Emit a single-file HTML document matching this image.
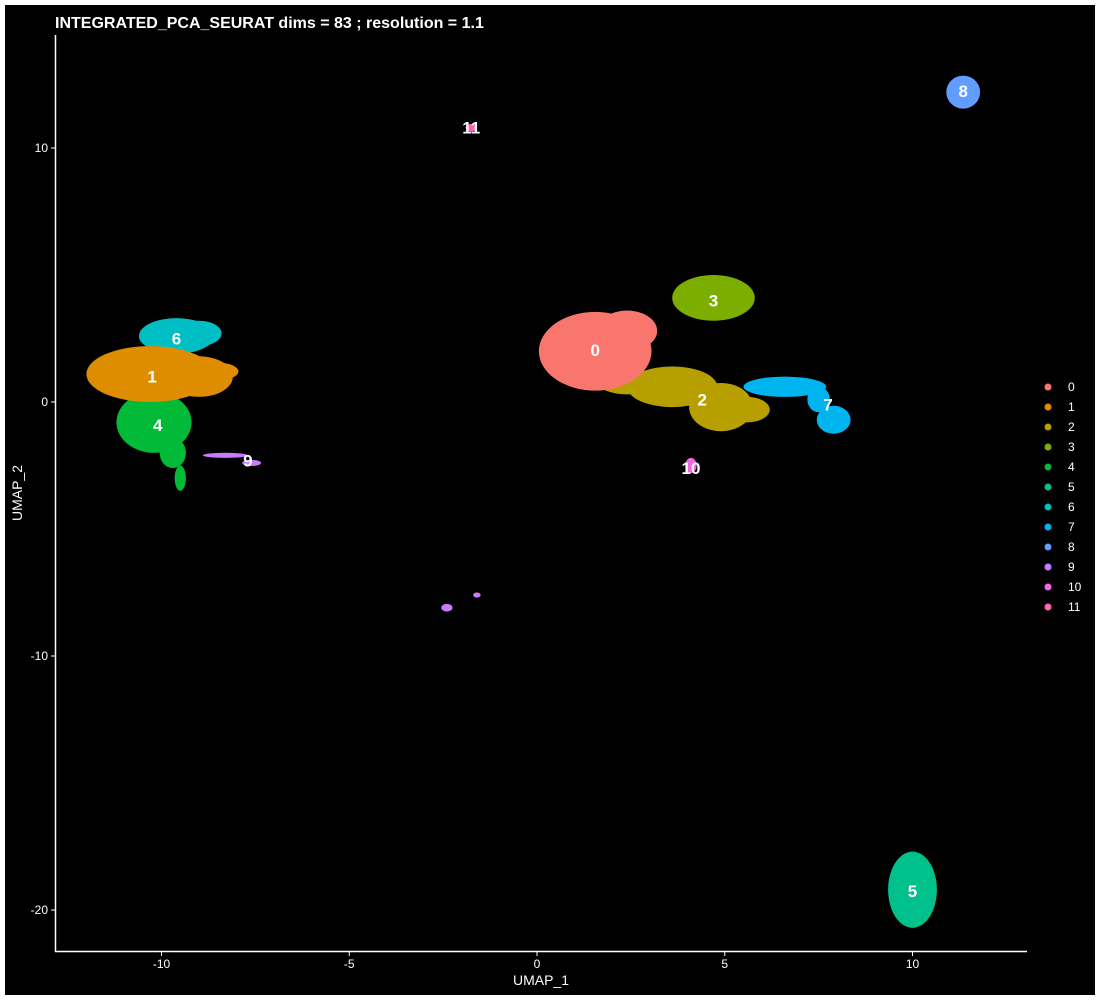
<!DOCTYPE html>
<html>
<head>
<meta charset="utf-8">
<style>
html,body{margin:0;padding:0;background:#fff;}
#wrap{position:relative;width:1100px;height:1000px;background:#fff;}
svg{position:absolute;left:0;top:0;font-family:"Liberation Sans","DejaVu Sans",sans-serif;}
</style>
</head>
<body>
<div id="wrap">
<svg id="chart" width="1100" height="1000">
  <rect x="5" y="5" width="1090" height="990" fill="#000"/>
  <g id="marks"></g>
  <g id="axes"></g>
  <text x="55" y="28" fill="#fff" font-size="16" font-weight="bold">INTEGRATED_PCA_SEURAT dims =  83 ; resolution = 1.1</text>
  <text x="541" y="985" fill="#fff" font-size="14" text-anchor="middle">UMAP_1</text>
  <text x="22" y="493" fill="#fff" font-size="14" text-anchor="middle" transform="rotate(-90 22 493)">UMAP_2</text>
  <g id="legend"></g>
</svg>
</div>
<script>
const clusterIds = ["0","1","2","3","4","5","6","7","8","9","10","11"];
const clusterColors = ["#F8766D","#DE8C00","#B79F00","#7CAE00","#00BA38","#00C08B","#00BFC4","#00B4F0","#619CFF","#C77CFF","#F564E3","#FF64B0"];
// blobs: cluster index, center x, center y, radius x, radius y (data units)
const blobCluster = [6,6, 4,4,4, 1,1,1, 2,2,2,2, 0,0, 3, 7,7,7, 5, 8, 9,9,9,9, 10, 11];
const blobX  = [-9.6,-9.0, -10.2,-9.7,-9.5, -10.3,-9.0,-8.5, 4.9,3.6,2.4,5.6, 1.55,2.4, 4.7, 6.6,7.9,7.5, 10.0, 11.35, -8.3,-7.6,-2.4,-1.6, 4.1, -1.75];
const blobY  = [2.6,2.7, -0.8,-2.0,-3.0, 1.1,1.0,1.2, -0.2,0.6,0.8,-0.3, 2.0,2.8, 4.1, 0.6,-0.7,0.1, -19.2, 12.2, -2.1,-2.4,-8.1,-7.6, -2.5, 10.8];
const blobRX = [1.0,0.6, 1.0,0.35,0.15, 1.7,0.9,0.55, 0.85,1.2,0.8,0.6, 1.5,0.8, 1.1, 1.1,0.45,0.3, 0.65, 0.45, 0.6,0.25,0.15,0.1, 0.15, 0.15];
const blobRY = [0.7,0.5, 1.2,0.6,0.5, 1.1,0.8,0.35, 0.95,0.8,0.5,0.5, 1.55,0.8, 0.9, 0.4,0.55,0.5, 1.5, 0.65, 0.1,0.12,0.15,0.1, 0.3, 0.15];
// label positions
const labelX = [1.55,-10.25,4.4,4.7,-10.1,10.0,-9.6,7.75,11.35,-7.7,4.1,-1.75];
const labelY = [2.05,1.0,0.1,4.0,-0.9,-19.25,2.5,-0.1,12.25,-2.3,-2.6,10.8];
const xTicks = [-10,-5,0,5,10];
const yTicks = [10,0,-10,-20];

const NS="http://www.w3.org/2000/svg";
function sx(v){return 537+v*37.55;}
function sy(v){return 402-v*25.4;}
function mk(t,a){const e=document.createElementNS(NS,t);for(const k in a)e.setAttribute(k,a[k]);return e;}

const marks=document.getElementById('marks');
for(let i=0;i<blobX.length;i++){
  const e=mk('ellipse',{cx:sx(blobX[i]),cy:sy(blobY[i]),rx:blobRX[i]*37.55,ry:blobRY[i]*25.4,fill:clusterColors[blobCluster[i]]});
  
  
  marks.appendChild(e);
}
for(let i=0;i<clusterIds.length;i++){
  const t=mk('text',{x:sx(labelX[i]),y:sy(labelY[i])+6,fill:'#fff','font-size':17,'font-weight':'bold','text-anchor':'middle'});
  t.textContent=clusterIds[i];
  
  
  marks.appendChild(t);
}

const axes=document.getElementById('axes');
const yl=mk('line',{x1:55.5,y1:35,x2:55.5,y2:952,stroke:'#fff','stroke-width':1.5});


axes.appendChild(yl);
const xl=mk('line',{x1:55,y1:951.5,x2:1027,y2:951.5,stroke:'#fff','stroke-width':1.5});


axes.appendChild(xl);
xTicks.forEach(v=>{
  const l=mk('line',{x1:sx(v),y1:952,x2:sx(v),y2:956,stroke:'#fff'});
  
  
  axes.appendChild(l);
  const t=mk('text',{x:sx(v),y:968,fill:'#fff','font-size':12,'text-anchor':'middle'});
  t.textContent=v;
  
  
  axes.appendChild(t);
});
yTicks.forEach(v=>{
  const l=mk('line',{x1:51,y1:sy(v),x2:55,y2:sy(v),stroke:'#fff'});
  
  
  axes.appendChild(l);
  const t=mk('text',{x:48,y:sy(v)+4,fill:'#fff','font-size':12,'text-anchor':'end'});
  t.textContent=v;
  
  
  axes.appendChild(t);
});

const legend=document.getElementById('legend');
clusterIds.forEach((id,i)=>{
  const y=387+i*20;
  const c=mk('circle',{cx:1048,cy:y,r:3.5,fill:clusterColors[i]});
  
  
  legend.appendChild(c);
  const t=mk('text',{x:1068,y:y+4,fill:'#fff','font-size':12});
  t.textContent=id;
  
  
  legend.appendChild(t);
});
</script>
</body>
</html>
